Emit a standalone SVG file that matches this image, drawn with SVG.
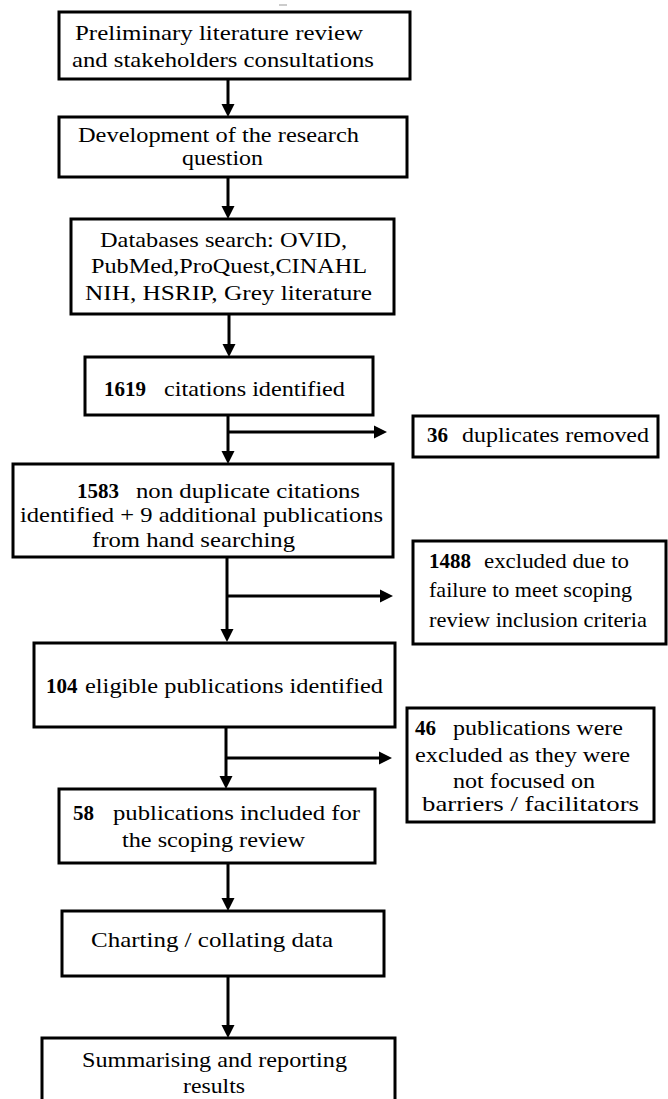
<svg xmlns="http://www.w3.org/2000/svg" width="668" height="1099" viewBox="0 0 668 1099">
<style>
.box{fill:#fff;stroke:#000;stroke-width:3}
.t{font-family:"Liberation Serif","Times New Roman",serif;font-size:22px;fill:#000}
.b{font-weight:bold;font-size:21px}
.c{stroke:#000;stroke-width:3;fill:none;marker-end:url(#ah)}
</style>
<defs>
<marker id="ah" markerUnits="userSpaceOnUse" markerWidth="14" markerHeight="14" refX="0" refY="7" orient="auto">
<path d="M0,0.5 L13,7 L0,13.5 z" fill="#000"/>
</marker>
</defs>
<rect width="668" height="1099" fill="#fff"/>
<line x1="279" y1="5" x2="287" y2="5" stroke="#999" stroke-width="1"/>

<g id="connectors">
<line class="c" x1="228" y1="79" x2="228" y2="104"/>
<line class="c" x1="228" y1="177" x2="228" y2="206"/>
<line class="c" x1="229" y1="314" x2="229" y2="344"/>
<line class="c" x1="228" y1="415" x2="228" y2="451"/>
<line class="c" x1="228" y1="432" x2="374" y2="432"/>
<line class="c" x1="227" y1="557" x2="227" y2="629"/>
<line class="c" x1="227" y1="596" x2="380" y2="596"/>
<line class="c" x1="226" y1="727" x2="226" y2="776"/>
<line class="c" x1="226" y1="758" x2="379" y2="758"/>
<line class="c" x1="228" y1="863" x2="228" y2="898"/>
<line class="c" x1="228" y1="976" x2="228" y2="1025"/>
</g>

<g id="n1">
<rect class="box" x="59" y="12" width="351" height="67"/>
<text class="t" x="75" y="40" textLength="288" lengthAdjust="spacingAndGlyphs">Preliminary  literature  review</text>
<text class="t" x="72" y="67" textLength="302" lengthAdjust="spacingAndGlyphs">and stakeholders  consultations</text>
</g>

<g id="n2">
<rect class="box" x="59" y="117" width="348" height="60"/>
<text class="t" x="78" y="142" textLength="281" lengthAdjust="spacingAndGlyphs">Development  of the research</text>
<text class="t" x="182" y="165" textLength="81" lengthAdjust="spacingAndGlyphs">question</text>
</g>

<g id="n3">
<rect class="box" x="71" y="219" width="323" height="95"/>
<text class="t" x="100" y="247" textLength="247" lengthAdjust="spacingAndGlyphs">Databases  search: OVID,</text>
<text class="t" x="91" y="273" textLength="276" lengthAdjust="spacingAndGlyphs">PubMed,ProQuest,CINAHL</text>
<text class="t" x="85" y="300" textLength="287" lengthAdjust="spacingAndGlyphs">NIH,  HSRIP,  Grey literature</text>
</g>

<g id="n4">
<rect class="box" x="85" y="357" width="288" height="58"/>
<text class="t b" x="104" y="396">1619</text>
<text class="t" x="164" y="396" textLength="181" lengthAdjust="spacingAndGlyphs">citations identified</text>
</g>

<g id="n5">
<rect class="box" x="413" y="416" width="245" height="41"/>
<text class="t b" x="427" y="442">36</text>
<text class="t" x="462" y="442" textLength="187" lengthAdjust="spacingAndGlyphs">duplicates  removed</text>
</g>

<g id="n6">
<rect class="box" x="13" y="464" width="380" height="93"/>
<text class="t b" x="77" y="498">1583</text>
<text class="t" x="136" y="498" textLength="224" lengthAdjust="spacingAndGlyphs">non duplicate citations</text>
<text class="t" x="20" y="522" textLength="363" lengthAdjust="spacingAndGlyphs">identified + 9 additional publications</text>
<text class="t" x="92" y="547" textLength="203" lengthAdjust="spacingAndGlyphs">from hand searching</text>
</g>

<g id="n7">
<rect class="box" x="413" y="541" width="253" height="103"/>
<text class="t b" x="429" y="568">1488</text>
<text class="t" x="484" y="568" textLength="145" lengthAdjust="spacingAndGlyphs">excluded  due to</text>
<text class="t" x="429" y="597" textLength="203" lengthAdjust="spacingAndGlyphs">failure  to meet  scoping</text>
<text class="t" x="429" y="627" textLength="218" lengthAdjust="spacingAndGlyphs">review  inclusion  criteria</text>
</g>

<g id="n8">
<rect class="box" x="34" y="643" width="361" height="84"/>
<text class="t b" x="46" y="693">104</text>
<text class="t" x="85" y="693" textLength="298" lengthAdjust="spacingAndGlyphs">eligible publications identified</text>
</g>

<g id="n9">
<rect class="box" x="407" y="708" width="247" height="114"/>
<text class="t b" x="415" y="735">46</text>
<text class="t" x="453" y="735" textLength="170" lengthAdjust="spacingAndGlyphs">publications were</text>
<text class="t" x="415" y="762" textLength="215" lengthAdjust="spacingAndGlyphs">excluded as they were</text>
<text class="t" x="453" y="788" textLength="142" lengthAdjust="spacingAndGlyphs">not focused on</text>
<text class="t" x="422" y="811" textLength="217" lengthAdjust="spacingAndGlyphs">barriers  /  facilitators</text>
</g>

<g id="n10">
<rect class="box" x="59" y="789" width="316" height="74"/>
<text class="t b" x="73" y="820">58</text>
<text class="t" x="113" y="820" textLength="247" lengthAdjust="spacingAndGlyphs">publications  included  for</text>
<text class="t" x="122" y="847" textLength="183" lengthAdjust="spacingAndGlyphs">the scoping review</text>
</g>

<g id="n11">
<rect class="box" x="62" y="911" width="322" height="65"/>
<text class="t" x="91" y="947" textLength="242" lengthAdjust="spacingAndGlyphs">Charting  /  collating  data</text>
</g>

<g id="n12">
<rect class="box" x="42" y="1038" width="353" height="70"/>
<text class="t" x="82" y="1067" textLength="265" lengthAdjust="spacingAndGlyphs">Summarising and reporting</text>
<text class="t" x="183" y="1093" textLength="62" lengthAdjust="spacingAndGlyphs">results</text>
</g>
</svg>
